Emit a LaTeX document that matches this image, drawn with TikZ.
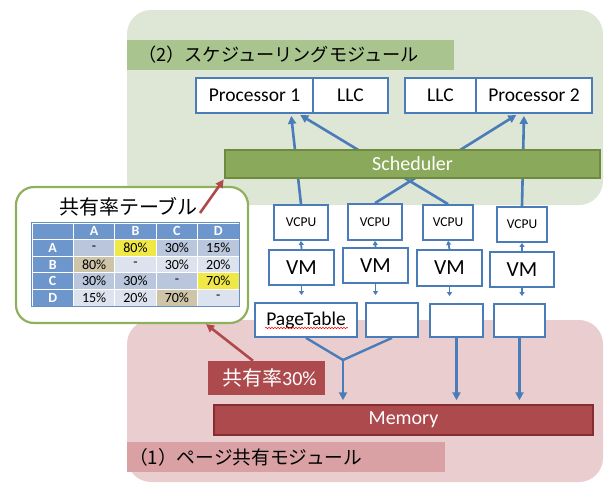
\documentclass[tikz,border=0pt]{standalone}
\usepackage{fontspec}
\setmainfont{Carlito}
\newfontfamily\jp{Noto Sans CJK JP}
\usetikzlibrary{arrows.meta,decorations.pathmorphing}
\definecolor{greenbg}{RGB}{222,230,213}
\definecolor{greenband}{RGB}{170,196,143}
\definecolor{schedfill}{RGB}{138,169,90}
\definecolor{schedline}{RGB}{110,138,62}
\definecolor{pinkbg}{RGB}{234,206,207}
\definecolor{pinkband}{RGB}{217,161,164}
\definecolor{memfill}{RGB}{173,74,78}
\definecolor{memline}{RGB}{135,45,50}
\definecolor{boxblue}{RGB}{74,124,185}
\definecolor{redarrow}{RGB}{176,72,76}
\definecolor{tblgreen}{RGB}{143,176,92}
\definecolor{thead}{RGB}{108,150,204}
\definecolor{tdark}{RGB}{185,198,220}
\definecolor{tlight}{RGB}{220,227,239}
\definecolor{tyellow}{RGB}{240,232,70}
\definecolor{ttan}{RGB}{206,196,168}
\newcommand\mytcell[5]{\node[cell, fill=#4] (t#1#2) at ({32+41.4*(#2-0.5)},{223+16.6*(#1-0.5)}) {#5};}
\begin{document}
\begin{tikzpicture}[x=1pt,y=-1pt,
  box/.style={draw=boxblue, line width=1.8pt, fill=white, inner sep=0pt, font=\fontsize{19.5}{22}\selectfont},
  bigarrow/.style={draw=boxblue, line width=2.6pt, -{Triangle[length=8pt,width=8pt]}},
  smallarrow/.style={draw=boxblue, line width=1.8pt, -{Triangle[length=4pt,width=5pt]}},
  redarr/.style={draw=redarrow, line width=2.6pt, -{Triangle[length=8pt,width=8pt]}},
  cell/.style={draw=white, line width=0.8pt, minimum width=41.4pt, minimum height=16.6pt, inner sep=0pt, font=\fontsize{14}{15}\selectfont}
]
\useasboundingbox (0,0) rectangle (606,483);
% backgrounds
\node[fill=greenbg, rounded corners=24pt, minimum width=476pt, minimum height=195pt, inner sep=0pt] (gbg) at (365,107.5) {};
\node[fill=pinkbg, rounded corners=24pt, minimum width=476pt, minimum height=162pt, inner sep=0pt] (pbg) at (365,401) {};
\node[fill=greenband, minimum width=327pt, minimum height=30pt, inner sep=0pt] (gband) at (290.5,55) {};
\node[anchor=west, inner sep=0pt, font=\jp\fontsize{18.2}{20}\selectfont] (gtitle) at (138,55) {（2）スケジューリングモジュール};
\node[fill=pinkband, minimum width=318pt, minimum height=30pt, inner sep=0pt] (pband) at (286,457) {};
\node[anchor=west, inner sep=0pt, font=\jp\fontsize{18.7}{20}\selectfont] (ptitle) at (129,457) {（1）ページ共有モジュール};
% processors
\node[box, minimum width=117pt, minimum height=35pt] (proc1) at (254.5,95.5) {Processor 1};
\node[box, minimum width=75pt, minimum height=35pt] (llc1) at (350.5,95.5) {LLC};
\node[box, minimum width=71pt, minimum height=35pt] (llc2) at (440.5,95.5) {LLC};
\node[box, minimum width=116pt, minimum height=35pt] (proc2) at (534,95.5) {Processor 2};
% VCPUs
\node[box, minimum width=54pt, minimum height=35pt, font=\fontsize{13.5}{15}\selectfont] (vcpu1) at (301,222.5) {VCPU};
\node[box, minimum width=54pt, minimum height=36pt, font=\fontsize{13.5}{15}\selectfont] (vcpu2) at (375,222) {VCPU};
\node[box, minimum width=50pt, minimum height=35pt, font=\fontsize{13.5}{15}\selectfont] (vcpu3) at (448,222.5) {VCPU};
\node[box, minimum width=50pt, minimum height=35pt, font=\fontsize{13.5}{15}\selectfont] (vcpu4) at (522,224.5) {VCPU};
% VMs
\node[box, minimum width=65pt, minimum height=35pt, font=\fontsize{21.5}{24}\selectfont] (vm1) at (301.5,267.5) {VM};
\node[box, minimum width=65pt, minimum height=35pt, font=\fontsize{21.5}{24}\selectfont] (vm2) at (375.5,265.5) {VM};
\node[box, minimum width=65pt, minimum height=36pt, font=\fontsize{21.5}{24}\selectfont] (vm3) at (449.5,268) {VM};
\node[box, minimum width=64pt, minimum height=35pt, font=\fontsize{21.5}{24}\selectfont] (vm4) at (522,269.5) {VM};
% page tables
\node[box, minimum width=102pt, minimum height=34pt] (pt1) at (306,320) {PageTable};
\node[box, minimum width=52pt, minimum height=34pt] (pt2) at (392,320) {};
\node[box, minimum width=53pt, minimum height=33pt] (pt3) at (456.5,320.5) {};
\node[box, minimum width=51pt, minimum height=33pt] (pt4) at (519.5,320.5) {};
\draw[red, line width=0.5pt, decorate, decoration={snake, amplitude=0.8pt, segment length=3pt}]
  ([shift={(-41,8)}]pt1.center) -- ([shift={(42,8)}]pt1.center);
% VM arrows
\foreach \i in {1,2,3,4} {
  \draw[smallarrow] (vm\i.north) -- (vcpu\i.south);
  \draw[smallarrow, shorten >=7pt] (vm\i.south) -- (vm\i.south |- pt\i.north);
}
% scheduling arrows
\draw[bigarrow, shorten >=2pt] (vcpu1.north) -- ([xshift=36.5pt]proc1.south);
\draw[bigarrow, shorten >=2pt] (vcpu3.north) -- ([xshift=44pt]proc1.south);
\draw[bigarrow, shorten >=2pt] (vcpu2.north) -- ([xshift=-16pt]proc2.south);
\draw[bigarrow, shorten >=2pt] (vcpu4.north) -- ([xshift=-10pt]proc2.south);
% scheduler
\node[fill=schedfill, draw=schedline, line width=1.5pt, minimum width=375pt, minimum height=28pt, inner sep=0pt, text=white, font=\fontsize{20}{22}\selectfont] (sched) at (412.5,164) {Scheduler};
% memory
\node[fill=memfill, draw=memline, line width=1.5pt, minimum width=379pt, minimum height=30pt, inner sep=0pt, text=white, font=\fontsize{20}{22}\selectfont] (mem) at (403.5,420) {Memory};
\coordinate (junc) at (343,360);
\draw[boxblue, line width=2.4pt] (pt1.south) -- (junc);
\draw[boxblue, line width=2.4pt] (pt2.south) -- (junc);
\draw[bigarrow, line width=2.4pt, shorten >=4pt] (junc) -- (junc |- mem.north);
\draw[bigarrow, line width=2.4pt, shorten >=4pt] (pt3.south) -- (pt3.south |- mem.north);
\draw[bigarrow, line width=2.4pt, shorten >=4pt] (pt4.south) -- (pt4.south |- mem.north);
% share label
\node[fill=memfill, minimum width=117pt, minimum height=34pt, inner sep=0pt, text=white, font=\fontsize{20}{22}\selectfont] (share) at (266.5,378) {\hspace*{6pt}{\jp 共有率}30\%};
% table box
\node[draw=tblgreen, line width=2.2pt, fill=white, rounded corners=18pt, minimum width=232pt, minimum height=136pt, inner sep=0pt] (tblbox) at (132,255) {};
\node[font=\jp\fontsize{20}{22}\selectfont, inner sep=0pt] (tbltitle) at (128.5,207) {共有率テーブル};
% table
\mytcell{1}{1}{}{thead}{}
\mytcell{1}{2}{}{thead}{\textcolor{white}{\bfseries A}}
\mytcell{1}{3}{}{thead}{\textcolor{white}{\bfseries B}}
\mytcell{1}{4}{}{thead}{\textcolor{white}{\bfseries C}}
\mytcell{1}{5}{}{thead}{\textcolor{white}{\bfseries D}}
\mytcell{2}{1}{}{thead}{\textcolor{white}{\bfseries A}}
\mytcell{2}{2}{}{tdark}{-}
\mytcell{2}{3}{}{tyellow}{80\%}
\mytcell{2}{4}{}{tdark}{30\%}
\mytcell{2}{5}{}{tdark}{15\%}
\mytcell{3}{1}{}{thead}{\textcolor{white}{\bfseries B}}
\mytcell{3}{2}{}{ttan}{80\%}
\mytcell{3}{3}{}{tlight}{-}
\mytcell{3}{4}{}{tlight}{30\%}
\mytcell{3}{5}{}{tlight}{20\%}
\mytcell{4}{1}{}{thead}{\textcolor{white}{\bfseries C}}
\mytcell{4}{2}{}{tdark}{30\%}
\mytcell{4}{3}{}{tdark}{30\%}
\mytcell{4}{4}{}{tdark}{-}
\mytcell{4}{5}{}{tyellow}{70\%}
\mytcell{5}{1}{}{thead}{\textcolor{white}{\bfseries D}}
\mytcell{5}{2}{}{tlight}{15\%}
\mytcell{5}{3}{}{tlight}{20\%}
\mytcell{5}{4}{}{ttan}{70\%}
\mytcell{5}{5}{}{tlight}{-}
\draw[boxblue!85, line width=1pt] (t11.north west) rectangle (t55.south east);
% red arrows
\coordinate (rstart) at (200,213);
\draw[redarr, shorten >=1pt] (rstart) -- (sched.south west);
\draw[redarr] ([xshift=-13.5pt]share.north) -- ([xshift=-43pt]tblbox.south east);
\end{tikzpicture}
\end{document}
